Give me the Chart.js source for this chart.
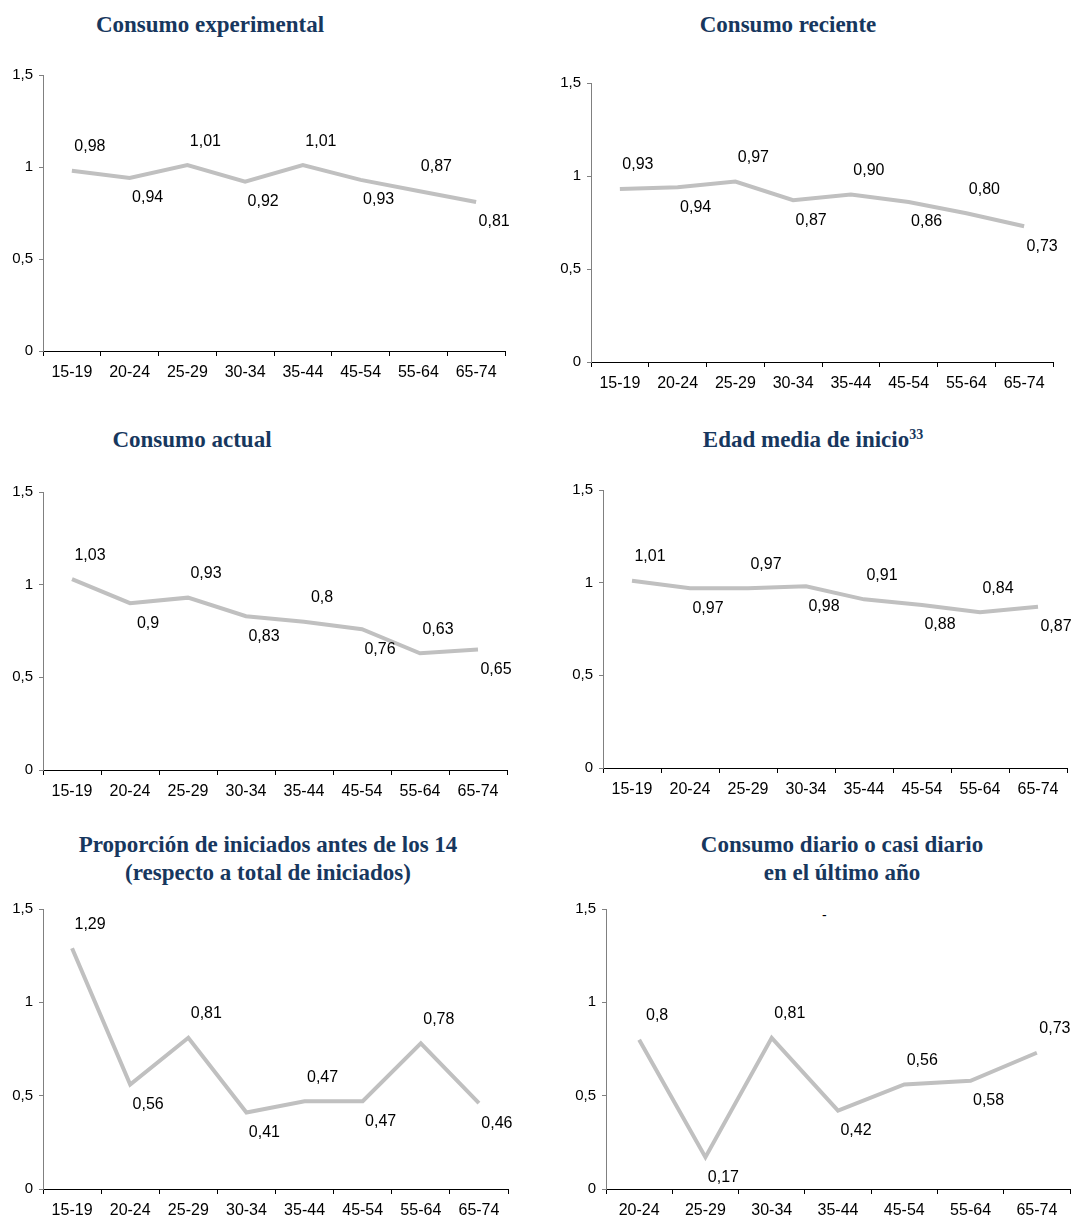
<!DOCTYPE html>
<html>
<head>
<meta charset="utf-8">
<script src="https://cdn.jsdelivr.net/npm/chart.js@4/dist/chart.umd.min.js"></script>
<style>
  html, body { margin: 0; padding: 0; background: #fff; overflow: hidden; }
  body { width: 1075px; height: 1222px; position: relative; }
  .title {
    position: absolute; width: 500px; text-align: center;
    font-family: 'Liberation Serif', 'DejaVu Serif', serif; font-weight: bold;
    font-size: 23px; line-height: 28px; color: #17375E;
  }
  .title sup { font-size: 14px; vertical-align: 8px; line-height: 0; }
  .box { position: absolute; }
  .stray { position: absolute; font-family: 'Liberation Sans', Arial, sans-serif; font-size: 14px; }
</style>
</head>
<body>
<div class="title" style="left:-40px; top:11px;">Consumo experimental</div>
<div class="title" style="left:538px; top:11px;">Consumo reciente</div>
<div class="title" style="left:-58px; top:426px;">Consumo actual</div>
<div class="title" style="left:563px; top:426px;">Edad media de inicio<sup>33</sup></div>
<div class="title" style="left:18px; top:831px;">Proporción de iniciados antes de los 14<br>(respecto a total de iniciados)</div>
<div class="title" style="left:592px; top:831px;">Consumo diario o casi diario<br>en el último año</div>
<div class="stray" style="left:822px; top:907px;">-</div>

<div class="box" id="b1"><canvas id="c1"></canvas></div>
<div class="box" id="b2"><canvas id="c2"></canvas></div>
<div class="box" id="b3"><canvas id="c3"></canvas></div>
<div class="box" id="b4"><canvas id="c4"></canvas></div>
<div class="box" id="b5"><canvas id="c5"></canvas></div>
<div class="box" id="b6"><canvas id="c6"></canvas></div>

<script>
// age groups on the x axis
const ageGroups = ['15-19', '20-24', '25-29', '30-34', '35-44', '45-54', '55-64', '65-74'];
const ageGroupsDaily = ['20-24', '25-29', '30-34', '35-44', '45-54', '55-64', '65-74'];

// series values
const experimental = [0.98, 0.94, 1.01, 0.92, 1.01, 0.93, 0.87, 0.81];
const reciente = [0.93, 0.94, 0.97, 0.87, 0.90, 0.86, 0.80, 0.73];
const actual = [1.03, 0.9, 0.93, 0.83, 0.8, 0.76, 0.63, 0.65];
const edadInicio = [1.01, 0.97, 0.97, 0.98, 0.91, 0.88, 0.84, 0.87];
const antes14 = [1.29, 0.56, 0.81, 0.41, 0.47, 0.47, 0.78, 0.46];
const diario = [0.8, 0.17, 0.81, 0.42, 0.56, 0.58, 0.73];

// y axis ticks
const yTicks = [0, 0.5, 1, 1.5];

const Y_AXIS_W = 43, X_AXIS_H = 32, PAD_TOP = 15, PAD_RIGHT = 25;
const FONT = "'Liberation Sans', Arial, sans-serif";

// value labels: even points above, odd points below, nudged to the right
const valueLabels = {
  id: 'valueLabels',
  afterDatasetsDraw(chart, args, opts) {
    const ctx = chart.ctx;
    const meta = chart.getDatasetMeta(0);
    const data = chart.data.datasets[0].data;
    ctx.save();
    ctx.font = '16px ' + FONT;
    ctx.fillStyle = '#000';
    ctx.textAlign = 'center';
    ctx.textBaseline = 'middle';
    meta.data.forEach((pt, i) => {
      const v = data[i];
      const txt = (opts.fixed ? v.toFixed(2) : String(v)).replace('.', ',');
      const dy = i % 2 === 0 ? -24 : 20;
      ctx.fillText(txt, pt.x + 18, pt.y + dy);
    });
    ctx.restore();
  }
};

function makeChart(n, labels, values, box, fixed) {
  const wrap = document.getElementById('b' + n);
  const w = box.right - box.axisX + Y_AXIS_W + PAD_RIGHT;
  const h = box.bottom - box.top + PAD_TOP + X_AXIS_H;
  wrap.style.left = (box.axisX - Y_AXIS_W) + 'px';
  wrap.style.top = (box.top - PAD_TOP) + 'px';
  wrap.style.width = w + 'px';
  wrap.style.height = h + 'px';

  new Chart(document.getElementById('c' + n), {
    type: 'line',
    data: {
      labels: labels,
      datasets: [{
        data: values,
        borderColor: '#C0C0C0',
        borderWidth: 4,
        pointRadius: 0,
        tension: 0,
        fill: false
      }]
    },
    options: {
      responsive: true,
      maintainAspectRatio: false,
      animation: false,
      layout: { padding: { top: PAD_TOP, right: PAD_RIGHT, left: 0, bottom: 0 } },
      scales: {
        x: {
          offset: true,
          grid: { offset: true, drawOnChartArea: false, drawTicks: true, tickLength: 5, color: '#000' },
          border: { color: '#000', width: 1 },
          ticks: { color: '#000', font: { family: FONT, size: 16 }, padding: 7, maxRotation: 0, autoSkip: false },
          afterFit(scale) { scale.height = X_AXIS_H; }
        },
        y: {
          min: 0,
          max: 1.5,
          afterBuildTicks(scale) { scale.ticks = yTicks.map(v => ({ value: v })); },
          grid: { drawOnChartArea: false, drawTicks: true, tickLength: 4, color: '#808080' },
          border: { color: '#808080', width: 1 },
          ticks: {
            color: '#000', font: { family: FONT, size: 15 }, padding: 6,
            callback: v => String(v).replace('.', ',')
          },
          afterFit(scale) { scale.width = Y_AXIS_W; }
        }
      },
      plugins: {
        legend: { display: false },
        tooltip: { enabled: false },
        valueLabels: { fixed: !!fixed }
      }
    },
    plugins: [valueLabels]
  });
}

makeChart(1, ageGroups, experimental, { axisX: 43, top: 75, bottom: 351, right: 505 });
makeChart(2, ageGroups, reciente, { axisX: 591, top: 83, bottom: 362, right: 1053 }, true);
makeChart(3, ageGroups, actual, { axisX: 43, top: 492, bottom: 770, right: 507 });
makeChart(4, ageGroups, edadInicio, { axisX: 603, top: 490, bottom: 768, right: 1067 });
makeChart(5, ageGroups, antes14, { axisX: 43, top: 909, bottom: 1189, right: 508 });
makeChart(6, ageGroupsDaily, diario, { axisX: 606, top: 909, bottom: 1189, right: 1070 });
</script>
</body>
</html>
